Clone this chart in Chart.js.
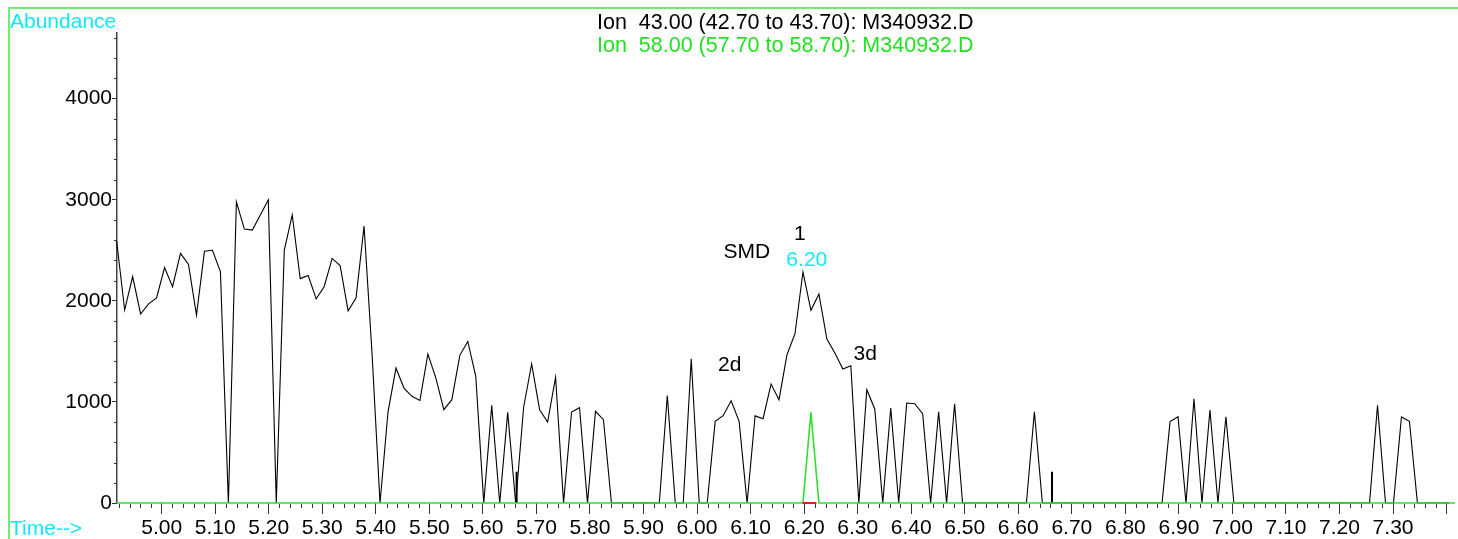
<!DOCTYPE html>
<html>
<head>
<meta charset="utf-8">
<script src="https://cdn.jsdelivr.net/npm/chart.js@4.4.1/dist/chart.umd.min.js"></script>
<style>
  html, body { margin: 0; padding: 0; background: #fff; }
  #wrap { position: relative; width: 1458px; height: 539px; overflow: hidden; font-family: "Liberation Sans", Arial, sans-serif; }
  #frame { position: absolute; left: 8px; top: 7px; width: 1460px; height: 560px; border-left: 2px solid #6ef06e; border-top: 2px solid #6ef06e; }
  .txt { position: absolute; font-size: 21px; line-height: 21px; white-space: pre; }
  .ttl { font-size: 21.5px; line-height: 21.5px; }
  canvas { position: absolute; left: 0; top: 0; }
</style>
</head>
<body>
<div id="wrap">
  <canvas id="tic" width="1458" height="539"></canvas>
  <div id="frame"></div>
  <div class="txt" style="left:10px;top:10px;color:#12e8f4;">Abundance</div>
  <div class="txt" style="left:10px;top:517px;color:#12e8f4;">Time--&gt;</div>
  <div class="txt ttl" style="left:597px;top:12px;color:#000;">Ion  43.00 (42.70 to 43.70): M340932.D</div>
  <div class="txt ttl" style="left:597px;top:35px;color:#22e022;">Ion  58.00 (57.70 to 58.70): M340932.D</div>
</div>
<script>
// scan timing (min)
const scanStart = 4.9160;
const scanStep = 0.014905;

// ion 43 abundance, one value per scan
const ion43 = [
  2590, 1910, 2240, 1870, 1970, 2030, 2330, 2140, 2470, 2360,
  1860, 2490, 2500, 2290, 0, 2980, 2710, 2700, 2850, 3000,
  0, 2500, 2850, 2220, 2250, 2020, 2140, 2420, 2350, 1900,
  2030, 2740, 1480, 0, 900, 1335, 1137, 1055, 1015, 1474,
  1236, 923, 1022, 1461, 1599, 1253, 0, 966, 0, 897,
  0, 950, 1375, 923, 801, 1243, 0, 900, 943, 0,
  907, 824, 0, 0, 0, 0, 0, 0, 0, 1062,
  0, 0, 1428, 0, 0, 808, 864, 1012, 808, 0,
  862, 834, 1177, 1022, 1467, 1675, 2285, 1906, 2067, 1622,
  1484, 1325, 1358, 0, 1121, 930, 0, 940, 0, 989,
  982, 884, 0, 903, 0, 982, 0, 0, 0, 0,
  0, 0, 0, 0, 0, 903, 0, 0, 0, 0,
  0, 0, 0, 0, 0, 0, 0, 0, 0, 0,
  0, 0, 805, 854, 0, 1032, 0, 920, 0, 854,
  0, 0, 0, 0, 0, 0, 0, 0, 0, 0,
  0, 0, 0, 0, 0, 0, 0, 0, 966, 0,
  0, 851, 808, 0, 0, 0, 0, 0
];

// ion 58 trace (flat except one scan)
const ion58Times = [4.9160, 6.1978, 6.2127, 6.2276, 7.4157];
const ion58Values = [0, 0, 897, 0, 0];

// integration baseline under peak 1
const integTimes = [6.197, 6.223];

// small event markers on the baseline
const markerTimes = [5.663, 6.663];
const markerHeight = 310;

// axes
const xMin = 4.9166, xMax = 7.4157;
const yMin = 0, yMax = 4650;
const xTickValues = [5.0, 5.1, 5.2, 5.3, 5.4, 5.5, 5.6, 5.7, 5.8, 5.9, 6.0, 6.1, 6.2, 6.3, 6.4, 6.5, 6.6, 6.7, 6.8, 6.9, 7.0, 7.1, 7.2, 7.3, 7.4];
const xTickLabels = ['5.00', '5.10', '5.20', '5.30', '5.40', '5.50', '5.60', '5.70', '5.80', '5.90', '6.00', '6.10', '6.20', '6.30', '6.40', '6.50', '6.60', '6.70', '6.80', '6.90', '7.00', '7.10', '7.20', '7.30', ''];
const yTickValues = [0, 1000, 2000, 3000, 4000];
const yTickLabels = ['0', '1000', '2000', '3000', '4000'];

// peak annotations [text, time, abundance, colour]
const labels = [
  ['SMD', 6.093, 2486, '#000'],
  ['1', 6.192, 2664, '#000'],
  ['6.20', 6.205, 2406, '#12e8f4'],
  ['2d', 6.061, 1368, '#000'],
  ['3d', 6.314, 1477, '#000']
];

const FONT = '"Liberation Sans", Arial, sans-serif';

const ion43Points = ion43.map((v, i) => ({ x: scanStart + i * scanStep, y: v }));
const ion58Points = ion58Times.map((t, i) => ({ x: t, y: ion58Values[i] }));
const integPoints = integTimes.map(t => ({ x: t, y: 0 }));
const markerPoints = [];
markerTimes.forEach(t => {
  markerPoints.push({ x: t, y: 0 }, { x: t, y: markerHeight }, { x: t, y: null });
});

// minor ticks + annotation text
const extras = {
  id: 'extras',
  afterDraw(chart) {
    const ctx = chart.ctx;
    const xs = chart.scales.x, ys = chart.scales.y;
    const base = ys.getPixelForValue(0);
    const left = xs.left;
    ctx.save();
    ctx.strokeStyle = '#333';
    ctx.lineWidth = 1;
    ctx.beginPath();
    for (let k = 246; k <= 370; k++) {
      if (k % 5 === 0) continue;
      const px = Math.round(xs.getPixelForValue(k / 50)) + 0.5;
      ctx.moveTo(px, base + 1);
      ctx.lineTo(px, base + 5);
    }
    for (let v = 200; v < yMax; v += 200) {
      if (v % 1000 === 0) continue;
      const py = Math.round(ys.getPixelForValue(v)) + 0.5;
      ctx.moveTo(left - 3, py);
      ctx.lineTo(left, py);
    }
    ctx.stroke();

    ctx.font = '21px ' + FONT;
    ctx.textAlign = 'center';
    ctx.textBaseline = 'middle';
    labels.forEach(([txt, t, v, col]) => {
      ctx.fillStyle = col;
      ctx.fillText(txt, xs.getPixelForValue(t), ys.getPixelForValue(v));
    });
    ctx.restore();
  }
};

new Chart(document.getElementById('tic'), {
  type: 'line',
  data: {
    datasets: [
      { data: integPoints, borderColor: '#e02020', borderWidth: 2, pointRadius: 0, clip: 4 },
      { data: ion58Points, borderColor: '#30e030', borderWidth: 1.6, pointRadius: 0, clip: 4 },
      { data: markerPoints, borderColor: '#000', borderWidth: 2, pointRadius: 0, spanGaps: false, clip: 4 },
      { data: ion43Points, borderColor: '#000', borderWidth: 1.1, pointRadius: 0, clip: 4 }
    ]
  },
  options: {
    responsive: false,
    animation: false,
    devicePixelRatio: 1,
    layout: { padding: { top: 33, right: 3, left: 0, bottom: 0 } },
    plugins: { legend: { display: false }, tooltip: { enabled: false } },
    elements: { line: { tension: 0 } },
    scales: {
      x: {
        type: 'linear',
        min: xMin,
        max: xMax,
        afterBuildTicks: s => { s.ticks = xTickValues.map(v => ({ value: v })); },
        afterFit: s => { s.height = 36; },
        border: { display: false },
        grid: { drawOnChartArea: false, tickLength: 11, tickColor: '#333', tickWidth: 1 },
        ticks: {
          autoSkip: false, maxRotation: 0, padding: 2,
          color: '#000', font: { family: FONT, size: 21 },
          callback: (v, i) => xTickLabels[i]
        }
      },
      y: {
        min: yMin,
        max: yMax,
        afterBuildTicks: s => { s.ticks = yTickValues.map(v => ({ value: v })); },
        afterFit: s => { s.width = 117; },
        border: { display: true, color: '#444', width: 1.5 },
        grid: { drawOnChartArea: false, tickLength: 5, tickColor: '#333' },
        ticks: {
          padding: 0,
          color: '#000', font: { family: FONT, size: 21 },
          callback: (v, i) => yTickLabels[i]
        }
      }
    }
  },
  plugins: [extras]
});
</script>
</body>
</html>
